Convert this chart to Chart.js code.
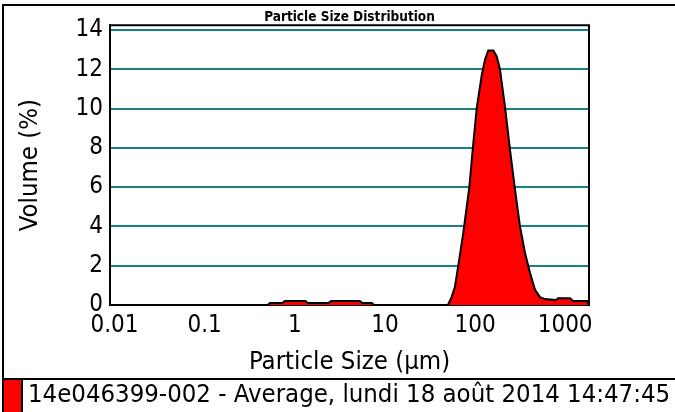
<!DOCTYPE html>
<html>
<head>
<meta charset="utf-8">
<script src="https://cdn.jsdelivr.net/npm/chart.js@4/dist/chart.umd.min.js"></script>
<style>
    html, body { margin: 0; padding: 0; background: #fff; }
</style>
</head>
<body>
<canvas id="distribucion" width="675" height="412"></canvas>
<script>
// Datos
const tamanos = [0.0089, 0.50, 0.53, 0.722, 0.776, 1.311, 1.402, 2.355, 2.537, 5.267, 5.63, 7.18, 7.55,
    50.1, 54.9, 59.9, 65.9, 74.1, 80.6, 86.5, 94.2, 104.3, 118.7, 129.1, 140.4, 159.7, 174.1, 189.2,
    215.0, 244.5, 277.7, 315.5, 358.8, 407.8, 463.4, 526.0, 598.2, 792.5, 833.2, 1131.6, 1223.9, 1749.9, 1840];
const volumen = [0, 0, 0.1, 0.1, 0.2, 0.2, 0.1, 0.1, 0.2, 0.2, 0.1, 0.1, 0,
    0, 0.4, 0.93, 2.15, 3.67, 4.95, 6.0, 7.9, 10.0, 11.7, 12.5, 12.96, 12.96, 12.66, 12.0,
    10.1, 7.9, 5.87, 4.0, 2.65, 1.63, 0.77, 0.4, 0.3, 0.25, 0.35, 0.35, 0.2, 0.2, 0];
const ticksX = [0.01, 0.1, 1, 10, 100, 1000];
const etiquetasX = ['0.01', '0.1', '1', '10', '100', '1000'];
const ticksY = [0, 2, 4, 6, 8, 10, 12, 14];
const nombreSerie = '14e046399-002 - Average, lundi 18 août 2014 14:47:45';

const fuente = "'DejaVu Sans Condensed', 'DejaVu Sans', sans-serif";
const verde = '#178282';

// Marco exterior, bordes del área y leyenda inferior
const marcoYLeyenda = {
    id: 'marcoYLeyenda',
    afterDraw(chart) {
        const ctx = chart.ctx;
        const { left, top, right, bottom } = chart.chartArea;
        const ds = chart.data.datasets[0];
        ctx.save();
        ctx.strokeStyle = '#000';
        ctx.lineWidth = 2;
        ctx.beginPath();
        ctx.moveTo(left, top);
        ctx.lineTo(right, top);
        ctx.lineTo(right, bottom);
        ctx.stroke();

        ctx.beginPath();
        ctx.moveTo(3, 412);
        ctx.lineTo(3, 5);
        ctx.lineTo(675, 5);
        ctx.moveTo(3, 379);
        ctx.lineTo(675, 379);
        ctx.stroke();

        ctx.fillStyle = ds.backgroundColor;
        ctx.fillRect(3, 379, 19, 34);
        ctx.strokeRect(3, 379, 19, 34);

        ctx.fillStyle = '#000';
        ctx.font = '25.5px ' + fuente;
        ctx.textBaseline = 'middle';
        ctx.textAlign = 'left';
        ctx.fillText(ds.label, 28, 395);
        ctx.restore();
    }
};

const ctx = document.getElementById('distribucion').getContext('2d');
new Chart(ctx, {
    type: 'line',
    data: {
        datasets: [{
            label: nombreSerie,
            data: tamanos.map((t, i) => ({ x: t, y: volumen[i] })),
            borderColor: '#000',
            backgroundColor: '#ff0000',
            borderWidth: 2,
            fill: 'origin',
            pointRadius: 0,
            tension: 0
        }]
    },
    options: {
        responsive: false,
        animation: false,
        layout: { padding: { top: 3, left: 0, right: 86, bottom: 33 } },
        plugins: {
            legend: { display: false },
            tooltip: { enabled: false },
            title: {
                display: true,
                fullSize: false,
                text: 'Particle Size Distribution',
                color: '#000',
                font: { family: fuente, size: 13.5, weight: 'bold' },
                padding: { top: 6, bottom: 0 }
            }
        },
        scales: {
            x: {
                type: 'logarithmic',
                min: 0.0089,
                max: 1840,
                afterBuildTicks(scale) { scale.ticks = ticksX.map(v => ({ value: v })); },
                afterFit(scale) { scale.height = 74; },
                ticks: {
                    autoSkip: false,
                    maxRotation: 0,
                    padding: 6,
                    color: '#000',
                    font: { family: fuente, size: 24 },
                    callback(v) {
                        const i = ticksX.indexOf(v);
                        return i >= 0 ? etiquetasX[i] : '';
                    }
                },
                grid: { display: false, drawTicks: false },
                border: { display: true, color: '#000', width: 2 },
                title: {
                    display: true,
                    text: 'Particle Size (µm)',
                    color: '#000',
                    font: { family: fuente, size: 25.5 },
                    padding: { top: 0, bottom: 1 }
                }
            },
            y: {
                min: 0,
                max: 14.25,
                afterBuildTicks(scale) { scale.ticks = ticksY.map(v => ({ value: v })); },
                afterFit(scale) { scale.width = 110; },
                ticks: {
                    padding: 7,
                    color: '#000',
                    font: { family: fuente, size: 24 }
                },
                grid: { color: verde, lineWidth: 2, drawTicks: false },
                border: { display: true, color: '#000', width: 2 },
                title: {
                    display: true,
                    text: 'Volume (%)',
                    color: '#000',
                    font: { family: fuente, size: 25.5 },
                    padding: { top: 14.7, bottom: 0 }
                }
            }
        }
    },
    plugins: [marcoYLeyenda]
});
</script>
</body>
</html>
